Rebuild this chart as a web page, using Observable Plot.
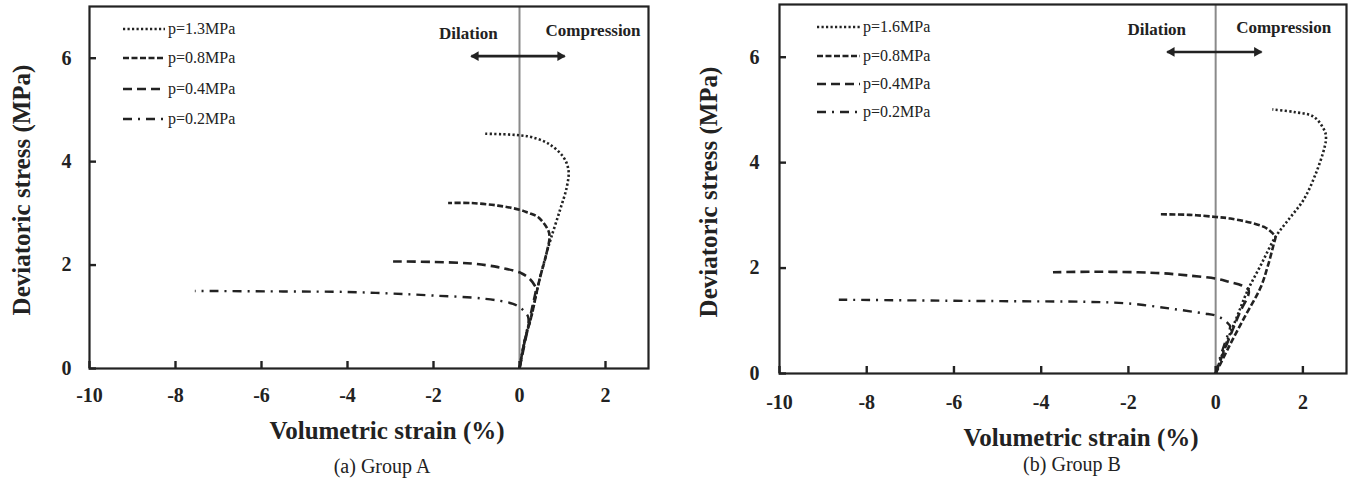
<!DOCTYPE html>
<html><head><meta charset="utf-8">
<script src="https://cdn.jsdelivr.net/npm/d3@7"></script>
<script src="https://cdn.jsdelivr.net/npm/@observablehq/plot@0.6"></script>
<style>
html,body{margin:0;padding:0;background:#fff;}
#root{position:relative;width:1354px;height:479px;overflow:hidden;font-family:"Liberation Serif","Times New Roman",serif;color:#222;}
.panel{position:absolute;top:0;}
.lab{position:absolute;font-weight:bold;font-size:25px;white-space:nowrap;transform:translate(-50%,-50%);line-height:1;}
.ylab{transform:translate(-50%,-50%) rotate(-90deg);}
.cap{position:absolute;font-size:20px;white-space:nowrap;transform:translate(-50%,-50%);line-height:1;}
.leg{position:absolute;font-size:16px;white-space:nowrap;display:flex;align-items:center;line-height:1;transform:translateY(-50%);}
.leg svg{display:block;margin-right:3px;}
</style></head><body><div id="root"></div>
<script>
// ---------- data ----------
const xTicks = [-10, -8, -6, -4, -2, 0, 2];
const yTicks = [0, 2, 4, 6];
const xDomain = [-10, 3];
const yDomain = [0, 7];
const xLabel = "Volumetric strain (%)";
const yLabel = "Deviatoric stress (MPa)";
const seriesA = ["p=1.3MPa", "p=0.8MPa", "p=0.4MPa", "p=0.2MPa"];
const seriesB = ["p=1.6MPa", "p=0.8MPa", "p=0.4MPa", "p=0.2MPa"];
const captions = ["(a) Group A", "(b) Group B"];
const annotLabels = ["Dilation", "Compression"];

// Group A curves [volumetric strain %, deviatoric stress MPa]
const A13 = [[0,0],[0.12,0.54],[0.27,0.99],[0.46,1.70],[0.62,2.2],[0.74,2.54],[0.94,3.06],[1.10,3.51],[1.14,3.83],[1.02,4.09],[0.67,4.35],[0.3,4.47],[0,4.51],[-0.4,4.53],[-0.85,4.54]];
const A08 = [[0,0],[0.12,0.54],[0.27,0.99],[0.46,1.70],[0.62,2.2],[0.70,2.55],[0.67,2.67],[0.43,2.93],[0.2,3.01],[0,3.07],[-0.5,3.15],[-1.13,3.2],[-1.66,3.2]];
const A04 = [[0,0],[0.1,0.4],[0.2,0.8],[0.3,1.2],[0.38,1.55],[0.35,1.61],[0.23,1.74],[0.05,1.84],[0,1.86],[-0.5,1.96],[-1.12,2.03],[-2,2.06],[-2.94,2.07]];
const A02 = [[0,0],[0.08,0.35],[0.15,0.65],[0.21,0.92],[0.2,1.0],[0.16,1.06],[0.04,1.16],[-0.15,1.25],[-0.82,1.35],[-1.98,1.41],[-3,1.45],[-4,1.48],[-5.5,1.49],[-7.55,1.5]];
// Group B curves
const B16 = [[0,0],[0.27,0.63],[0.5,1.1],[0.73,1.57],[1.05,2.08],[1.37,2.59],[1.7,2.95],[2.02,3.3],[2.3,3.8],[2.5,4.3],[2.53,4.47],[2.5,4.6],[2.25,4.87],[1.8,4.96],[1.3,5.01]];
const B08 = [[0,0],[0.3,0.5],[0.65,1.05],[1.03,1.63],[1.2,2.05],[1.33,2.45],[1.37,2.59],[1.34,2.63],[1.11,2.78],[0.34,2.94],[0,2.97],[-0.6,3.01],[-1.28,3.02]];
const B04 = [[0,0],[0.11,0.25],[0.35,0.75],[0.55,1.15],[0.76,1.57],[0.6,1.67],[0.3,1.74],[0,1.8],[-0.64,1.86],[-1.2,1.9],[-1.79,1.92],[-2.8,1.93],[-3.73,1.92]];
const B02 = [[0,0],[0.1,0.3],[0.22,0.6],[0.33,0.9],[0.28,0.95],[0.15,1.04],[0,1.1],[-0.27,1.14],[-1.03,1.23],[-2.02,1.33],[-3,1.36],[-4.47,1.37],[-6,1.38],[-8.64,1.40]];

// annotation anchors (data units): Dilation, Compression text; arrow tips
const annotA = {text: [[-1.19, 6.48], [1.71, 6.54]], arrow: [[-1.12, 6.04], [1.05, 6.04]]};
const annotB = {text: [[-1.35, 6.52], [1.56, 6.57]], arrow: [[-1.11, 6.10], [1.05, 6.10]]};

// ---------- styles ----------
const ink = "#222";
const dashes = ["2.2,2.3", "6,2.5", "9,5", "9,6,2,6"];
const widths = [2.6, 2.6, 2.6, 2.4];
const font = "Liberation Serif";
const tickLen = 7; // px

const panels = [
  {left: 0, width: 677, height: 400, mt: 6, mb: 32, ml: 89, mr: 29, curves: [A13, A08, A04, A02], series: seriesA, annot: annotA,
   tickPadX: 19, tickPadY: 18, xlab: [387, 430], ylab: [21, 190], cap: [382, 466],
   legend: {x: 123, w: 42, rows: [29, 58, 89, 119]}},
  {left: 677, width: 677, height: 405, mt: 4, mb: 32, ml: 102, mr: 8, curves: [B16, B08, B04, B02], series: seriesB, annot: annotB,
   tickPadX: 21, tickPadY: 20, xlab: [1081, 437], ylab: [708, 192], cap: [1072, 464],
   legend: {x: 817, w: 43, rows: [27, 56, 84, 112]}}
];

const root = document.getElementById("root");

panels.forEach((p, pi) => {
  const arrowData = [
    {x1: p.annot.arrow[0][0], y1: p.annot.arrow[0][1], x2: p.annot.arrow[1][0], y2: p.annot.arrow[1][1]}
  ];
  const heads = [
    {x: p.annot.arrow[0][0], y: p.annot.arrow[0][1], rot: -90, dx: 4.5},
    {x: p.annot.arrow[1][0], y: p.annot.arrow[1][1], rot: 90, dx: -4.5}
  ];
  const texts = annotLabels.map((t, i) => ({t, x: p.annot.text[i][0], y: p.annot.text[i][1]}));
  // tick length converted from pixels to data units of each axis
  const plotW = p.width - p.ml - p.mr, plotH = p.height - p.mt - p.mb;
  const tyLen = (yDomain[1] - yDomain[0]) * tickLen / plotH;
  const txLen = (xDomain[1] - xDomain[0]) * tickLen / plotW;

  const chart = Plot.plot({
    width: p.width, height: p.height,
    marginTop: p.mt, marginBottom: p.mb, marginLeft: p.ml, marginRight: p.mr,
    style: {fontFamily: font, color: ink, background: "transparent", overflow: "visible"},
    x: {domain: xDomain},
    y: {domain: yDomain},
    marks: [
      Plot.ruleX([0], {stroke: "#8a8a8a", strokeWidth: 2}),
      ...p.curves.map((pts, i) => Plot.line(pts, {
        x: d => d[0], y: d => d[1], stroke: ink, strokeWidth: widths[i],
        strokeDasharray: dashes[i], strokeLinecap: "butt", strokeLinejoin: "miter", curve: "catmull-rom"
      })),
      Plot.link(arrowData, {x1: "x1", y1: "y1", x2: "x2", y2: "y2", stroke: ink, strokeWidth: 2.6}),
      ...heads.map(h => Plot.dot([h], {x: "x", y: "y", symbol: "triangle", r: 3.6, fill: ink, stroke: "none", rotate: h.rot, dx: h.dx})),
      Plot.text(texts, {x: "x", y: "y", text: "t", fontSize: 17, fontWeight: "bold", fontFamily: font, fill: ink}),
      Plot.frame({stroke: ink, strokeWidth: 2.2}),
      // inward ticks
      Plot.ruleX(xTicks, {x: d => d, y1: () => yDomain[0], y2: () => yDomain[0] + tyLen, stroke: ink, strokeWidth: 2.4}),
      Plot.ruleY(yTicks, {y: d => d, x1: () => xDomain[0], x2: () => xDomain[0] + txLen, stroke: ink, strokeWidth: 2.4}),
      // tick labels
      Plot.axisX(xTicks, {tickSize: 0, tickPadding: p.tickPadX, fontSize: 20, fontWeight: "bold", fontFamily: font, label: null, tickFormat: d => String(d), fill: ink}),
      Plot.axisY(yTicks, {tickSize: 0, tickPadding: p.tickPadY, fontSize: 20, fontWeight: "bold", fontFamily: font, label: null, tickFormat: d => String(d), fill: ink})
    ]
  });
  chart.classList.add("panel");
  chart.style.left = p.left + "px";
  root.appendChild(chart);

  const xl = document.createElement("div");
  xl.className = "lab"; xl.textContent = xLabel;
  xl.style.left = p.xlab[0] + "px"; xl.style.top = p.xlab[1] + "px";
  root.appendChild(xl);

  const yl = document.createElement("div");
  yl.className = "lab ylab"; yl.textContent = yLabel;
  yl.style.left = p.ylab[0] + "px"; yl.style.top = p.ylab[1] + "px";
  root.appendChild(yl);

  const cp = document.createElement("div");
  cp.className = "cap"; cp.textContent = captions[pi];
  cp.style.left = p.cap[0] + "px"; cp.style.top = p.cap[1] + "px";
  root.appendChild(cp);

  p.series.forEach((name, i) => {
    const row = document.createElement("div");
    row.className = "leg";
    row.style.left = p.legend.x + "px";
    row.style.top = p.legend.rows[i] + "px";
    const ns = "http://www.w3.org/2000/svg";
    const s = document.createElementNS(ns, "svg");
    s.setAttribute("width", p.legend.w); s.setAttribute("height", 8);
    const ln = document.createElementNS(ns, "line");
    ln.setAttribute("x1", 0); ln.setAttribute("x2", p.legend.w);
    ln.setAttribute("y1", 4); ln.setAttribute("y2", 4);
    ln.setAttribute("stroke", ink); ln.setAttribute("stroke-width", widths[i]);
    ln.setAttribute("stroke-dasharray", dashes[i]);
    s.appendChild(ln);
    row.appendChild(s);
    const sp = document.createElement("span");
    sp.textContent = name;
    row.appendChild(sp);
    root.appendChild(row);
  });
});
</script>
</body></html>
